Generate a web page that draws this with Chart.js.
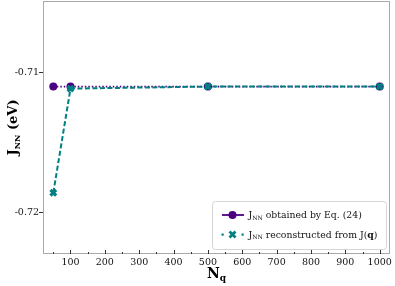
<!DOCTYPE html>
<html>
<head>
<meta charset="utf-8">
<script src="https://cdn.jsdelivr.net/npm/chart.js@4.4.1/dist/chart.umd.min.js"></script>
<style>
  html, body { margin: 0; padding: 0; background: #fff; }
  #wrap { width: 395px; height: 286px; }
</style>
</head>
<body>
<div id="wrap"><canvas id="grafico" width="395" height="286"></canvas></div>
<script>
// valores
const nq = [50, 100, 500, 1000];                              // N_q
const jEq = [-0.71102, -0.71102, -0.71102, -0.71102];         // J_NN obtido pela Eq. (24)
const jRecon = [-0.71862, -0.71117, -0.71102, -0.71102];      // J_NN reconstruido de J(q)
const xTicks = [100, 200, 300, 400, 500, 600, 700, 800, 900, 1000];
const xMinorTicks = [50, 150, 250, 350, 450, 550, 650, 750, 850, 950];
const yTicks = [-0.71, -0.72];
const yTickLabels = ['-0.71', '-0.72'];

const roxo = '#4b0082';
const verde = '#008080';
const serif = '"DejaVu Serif", serif';

// desenha texto com subscrito, devolve a largura
function textoSub(ctx, partes, x, y, medir) {
    let cx = x;
    partes.forEach(p => {
        ctx.font = p.font;
        const w = ctx.measureText(p.t).width;
        if (!medir) ctx.fillText(p.t, cx, y + (p.dy || 0));
        cx += w;
    });
    return cx - x;
}

const eixosPlugin = {
    id: 'eixos',
    beforeDatasetsDraw(chart) {
        const ctx = chart.ctx;
        const a = chart.chartArea;
        const xs = chart.scales.x, ys = chart.scales.y;
        ctx.save();
        ctx.strokeStyle = '#aaaaaa';
        ctx.lineWidth = 1;
        ctx.strokeRect(a.left + 0.5, a.top + 0.5, a.right - a.left - 1, a.bottom - a.top - 1);
        // ticks do eixo x (para dentro)
        ctx.strokeStyle = '#333';
        ctx.beginPath();
        xTicks.forEach(v => {
            const px = Math.round(xs.getPixelForValue(v)) + 0.5;
            ctx.moveTo(px, a.bottom); ctx.lineTo(px, a.bottom - 4);
        });
        xMinorTicks.forEach(v => {
            const px = Math.round(xs.getPixelForValue(v)) + 0.5;
            ctx.moveTo(px, a.bottom); ctx.lineTo(px, a.bottom - 2);
        });
        // ticks do eixo y (para fora)
        yTicks.forEach(v => {
            const py = Math.round(ys.getPixelForValue(v)) + 0.5;
            ctx.moveTo(a.left, py); ctx.lineTo(a.left - 4, py);
        });
        ctx.stroke();

        // rotulos dos ticks
        ctx.fillStyle = '#111';
        ctx.font = '9.5px ' + serif;
        ctx.textBaseline = 'middle';
        ctx.textAlign = 'center';
        xTicks.forEach(v => ctx.fillText(String(v), xs.getPixelForValue(v), a.bottom + 8.5));
        ctx.textAlign = 'right';
        yTicks.forEach((v, i) => ctx.fillText(yTickLabels[i], a.left - 4, ys.getPixelForValue(v) + 0.5));
        ctx.restore();
    },
    afterDraw(chart) {
        const ctx = chart.ctx;
        const a = chart.chartArea;
        ctx.save();
        ctx.fillStyle = '#000';
        ctx.textBaseline = 'alphabetic';

        // titulo do eixo y
        const tituloY = [
            { t: 'J', font: 'bold 13.5px ' + serif },
            { t: 'NN', font: 'bold 8px ' + serif, dy: 3 },
            { t: ' (eV)', font: 'bold 13px ' + serif }
        ];
        const wy = textoSub(ctx, tituloY, 0, 0, true);
        ctx.save();
        ctx.translate(17, (a.top + a.bottom) / 2);
        ctx.rotate(-Math.PI / 2);
        textoSub(ctx, tituloY, -wy / 2, 0, false);
        ctx.restore();

        // titulo do eixo x
        const tituloX = [
            { t: 'N', font: 'bold 14px ' + serif },
            { t: 'q', font: 'bold 9px ' + serif, dy: 3 }
        ];
        const wx = textoSub(ctx, tituloX, 0, 0, true);
        textoSub(ctx, tituloX, (a.left + a.right) / 2 - wx / 2, 278, false);

        // legenda
        const lx = 212, ly = 201, lw = 174, lh = 48;
        ctx.beginPath();
        ctx.roundRect(lx + 0.5, ly + 0.5, lw, lh, 3);
        ctx.fillStyle = 'rgba(255,255,255,0.85)';
        ctx.fill();
        ctx.strokeStyle = '#d5d5d5';
        ctx.lineWidth = 1;
        ctx.stroke();

        const y1 = 215, y2 = 234.5, mx = 232.5;
        // entrada 1
        ctx.strokeStyle = roxo;
        ctx.lineWidth = 1.8;
        ctx.beginPath(); ctx.moveTo(222, y1); ctx.lineTo(244, y1); ctx.stroke();
        ctx.fillStyle = roxo;
        ctx.beginPath(); ctx.arc(mx, y1, 4, 0, Math.PI * 2); ctx.fill();
        // entrada 2
        ctx.fillStyle = verde;
        ctx.fillRect(221.5, y2 - 1, 2.2, 2.2);
        ctx.fillRect(241.5, y2 - 1, 2.2, 2.2);
        ctx.strokeStyle = verde;
        ctx.lineWidth = 2.8;
        ctx.beginPath();
        ctx.moveTo(mx - 3, y2 - 3); ctx.lineTo(mx + 3, y2 + 3);
        ctx.moveTo(mx + 3, y2 - 3); ctx.lineTo(mx - 3, y2 + 3);
        ctx.stroke();

        ctx.fillStyle = '#111';
        const f = '9.3px ' + serif, fs = '6px ' + serif;
        textoSub(ctx, [
            { t: 'J', font: f }, { t: 'NN', font: fs, dy: 1.5 },
            { t: ' obtained by Eq. (24)', font: f }
        ], 248.5, y1 + 3.3, false);
        textoSub(ctx, [
            { t: 'J', font: f }, { t: 'NN', font: fs, dy: 1.5 },
            { t: ' reconstructed from J(', font: f },
            { t: 'q', font: 'bold ' + f }, { t: ')', font: f }
        ], 248.5, y2 + 3.3, false);
        ctx.restore();
    }
};

const ctx = document.getElementById('grafico').getContext('2d');

const grafico = new Chart(ctx, {
    type: 'line',
    data: {
        datasets: [{
            label: 'J_NN reconstructed from J(q)',
            data: nq.map((v, i) => ({ x: v, y: jRecon[i] })),
            borderColor: verde,
            backgroundColor: verde,
            borderWidth: 2,
            borderDash: [5, 2.5],
            pointStyle: 'crossRot',
            pointRadius: 4,
            pointBorderWidth: 3.2,
            pointBorderColor: verde,
            order: 0
        }, {
            label: 'J_NN obtained by Eq. (24)',
            data: nq.map((v, i) => ({ x: v, y: jEq[i] })),
            borderColor: roxo,
            backgroundColor: roxo,
            borderWidth: 1.8,
            borderDash: [1.5, 2],
            pointStyle: 'circle',
            pointRadius: 4,
            pointBorderWidth: 0,
            order: 1
        }]
    },
    options: {
        responsive: false,
        animation: false,
        layout: { autoPadding: false, padding: { top: 1, right: 5, left: 0, bottom: 0 } },
        plugins: { legend: { display: false }, tooltip: { enabled: false } },
        scales: {
            x: {
                type: 'linear',
                min: 20,
                max: 1030,
                grid: { display: false },
                border: { display: false },
                ticks: { display: false },
                afterFit: s => { s.height = 32; }
            },
            y: {
                type: 'linear',
                min: -0.723,
                max: -0.7049,
                grid: { display: false },
                border: { display: false },
                ticks: { display: false },
                afterFit: s => { s.width = 43; }
            }
        }
    },
    plugins: [eixosPlugin]
});
</script>
</body>
</html>
